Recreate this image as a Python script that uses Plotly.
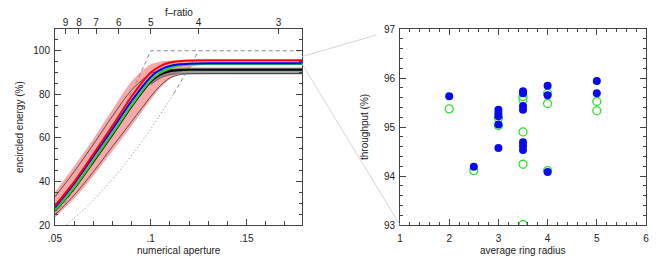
import plotly.graph_objects as go

# ---------------- data: left panel (encircled energy vs numerical aperture) -------------
na = [0.05, 0.06, 0.07, 0.08, 0.09, 0.10, 0.105, 0.11, 0.115, 0.12, 0.13, 0.15, 0.179]
ee_red = [28.8, 39.8, 52.5, 65.5, 79.0, 90.0, 93.0, 94.6, 95.2, 95.5, 95.6, 95.6, 95.6]
ee_blue = [28.1, 39.0, 51.5, 64.0, 77.0, 88.0, 91.3, 93.0, 93.8, 94.1, 94.3, 94.3, 94.3]
ee_green = [26.8, 37.2, 49.5, 62.0, 75.0, 86.5, 90.0, 92.0, 93.2, 93.7, 93.9, 93.9, 93.9]
ee_black = [26.5, 36.8, 49.0, 61.5, 74.5, 85.8, 89.0, 90.6, 91.1, 91.3, 91.3, 91.3, 91.3]
ee_thin_up = [33.0, 44.5, 57.0, 70.0, 82.0, 89.5, 90.9, 91.3, 91.4, 91.4, 91.4, 91.4, 91.4]
ee_thin_lo = [24.6, 33.7, 44.4, 56.0, 67.5, 79.0, 84.0, 87.5, 89.0, 89.4, 89.5, 89.5, 89.5]
ee_band_up = [35.2, 47.0, 59.5, 73.0, 86.0, 93.8, 95.0, 95.4, 95.6, 95.7, 95.8, 95.8, 95.8]
ee_band_lo = [23.5, 32.0, 42.5, 54.0, 65.5, 77.5, 83.0, 87.0, 89.8, 92.3, 94.0, 94.3, 94.3]

na_gray = [0.10, 0.105, 0.11, 0.115, 0.12, 0.13, 0.179]
ee_gray_up = [86.5, 89.6, 91.2, 91.8, 92.0, 92.0, 92.0]
ee_gray_lo = [84.5, 87.5, 89.0, 89.4, 89.5, 89.5, 89.5]

na_dash1 = [0.05, 0.055, 0.06, 0.065, 0.07, 0.075, 0.08, 0.085, 0.09, 0.095, 0.10, 0.179]
ee_dash1 = [25.0, 30.2, 36.0, 42.2, 49.0, 56.2, 64.0, 72.2, 81.0, 90.2, 100.0, 100.0]
na_dot = [0.056, 0.06, 0.065, 0.07, 0.075, 0.08, 0.085, 0.09, 0.095, 0.10, 0.105, 0.112]
ee_dot = [20.1, 23.0, 27.0, 31.4, 36.0, 41.0, 46.2, 51.8, 57.8, 64.0, 70.6, 80.3]
na_dash2 = [0.112, 0.116, 0.12, 0.125]
ee_dash2 = [80.3, 86.1, 92.2, 100.0]

f_ticks = [9, 8, 7, 6, 5, 4, 3]

# ---------------- data: right panel (throughput vs average ring radius) -----------------
blue_r = [2, 2.5, 3, 3, 3, 3, 3, 3.5, 3.5, 3.5, 3.5, 3.5, 3.5, 3.5, 4, 4, 4, 5, 5]
blue_t = [95.63, 94.19, 95.35, 95.28, 95.22, 95.05, 94.57, 95.73, 95.69, 95.43, 95.35,
          94.69, 94.61, 94.53, 95.84, 95.65, 94.08, 95.94, 95.69]
green_r = [2, 2.5, 3, 3, 3.5, 3.5, 3.5, 3.5, 3.5, 4, 4, 4, 5, 5]
green_t = [95.37, 94.11, 95.18, 95.03, 95.62, 95.55, 94.90, 94.24, 93.01, 95.69, 95.48,
           94.11, 95.52, 95.33]

# ---------------- figure ----------------------------------------------------------------
fig = go.Figure()
sp = dict(shape="spline", smoothing=0.8)

fig.add_trace(go.Scatter(x=na, y=ee_band_lo, mode="lines", line=dict(width=0, **sp),
                         hoverinfo="skip", showlegend=False))
fig.add_trace(go.Scatter(x=na, y=ee_band_up, mode="lines", line=dict(width=0, **sp),
                         fill="tonexty", fillcolor="rgba(242,110,110,0.6)",
                         hoverinfo="skip", showlegend=False))
fig.add_trace(go.Scatter(x=na_gray, y=ee_gray_lo, mode="lines",
                         line=dict(width=0.8, color="#555", **sp), showlegend=False))
fig.add_trace(go.Scatter(x=na_gray, y=ee_gray_up, mode="lines",
                         line=dict(width=0.8, color="#555", **sp),
                         fill="tonexty", fillcolor="rgba(120,120,120,0.7)", showlegend=False))
fig.add_trace(go.Scatter(x=na, y=ee_thin_up, mode="lines",
                         line=dict(width=0.8, color="#333", **sp), showlegend=False))
fig.add_trace(go.Scatter(x=na, y=ee_thin_lo, mode="lines",
                         line=dict(width=0.8, color="#333", **sp), showlegend=False))
fig.add_trace(go.Scatter(x=na_dash1, y=ee_dash1, mode="lines",
                         line=dict(width=1, color="#8a8a8a", dash="4px,3px"), showlegend=False))
fig.add_trace(go.Scatter(x=na_dot, y=ee_dot, mode="lines",
                         line=dict(width=1, color="#8a8a8a", dash="1px,2.5px"), showlegend=False))
fig.add_trace(go.Scatter(x=na_dash2, y=ee_dash2, mode="lines",
                         line=dict(width=1, color="#8a8a8a", dash="4px,3px"), showlegend=False))
fig.add_trace(go.Scatter(x=na, y=ee_black, mode="lines",
                         line=dict(width=2, color="#000000", **sp), showlegend=False))
fig.add_trace(go.Scatter(x=na, y=ee_green, mode="lines",
                         line=dict(width=2, color="#22d622", **sp), showlegend=False))
fig.add_trace(go.Scatter(x=na, y=ee_blue, mode="lines",
                         line=dict(width=2, color="#0000ff", **sp), showlegend=False))
fig.add_trace(go.Scatter(x=na, y=ee_red, mode="lines",
                         line=dict(width=2, color="#ff0000", **sp), showlegend=False))

# right panel
fig.add_trace(go.Scatter(x=green_r, y=green_t, mode="markers", xaxis="x3", yaxis="y3",
                         marker=dict(symbol="circle-open", size=8, color="#33dd33",
                                     line=dict(width=1.3, color="#33dd33")),
                         showlegend=False))
fig.add_trace(go.Scatter(x=blue_r, y=blue_t, mode="markers", xaxis="x3", yaxis="y3",
                         marker=dict(symbol="circle", size=8, color="#0a0af0"),
                         showlegend=False))

axc = "#444"
tickfont = dict(family="Liberation Sans, Arial, sans-serif", size=10, color="#222")
common = dict(showgrid=False, zeroline=False, showline=True, linecolor=axc, linewidth=1,
              ticks="inside", tickcolor=axc, tickfont=tickfont, automargin=False)

L = 0.418
R0 = 0.5838

fig.update_layout(
    width=656, height=263,
    margin=dict(l=47, r=18, t=21, b=46),
    paper_bgcolor="white", plot_bgcolor="white",
    font=tickfont,
    xaxis=dict(domain=[0, L], range=[0.05, 0.179], mirror=True,
               tickvals=[0.05, 0.10, 0.15], ticktext=[".05", ".1", ".15"], ticklabelstandoff=4,
               ticklen=6, minor=dict(dtick=0.01, tick0=0.05, ticklen=4, tickcolor=axc, ticks="inside"),
               **common),
    yaxis=dict(domain=[0, 1], range=[20, 110], mirror="ticks",
               tickvals=[20, 40, 60, 80, 100], ticklen=6, ticklabelstandoff=2,
               minor=dict(dtick=5, tick0=20, ticklen=3, tickcolor=axc, ticks="inside"),
               **common),
    xaxis2=dict(overlaying="x", side="top", range=[0.05, 0.179], anchor="y",
                tickvals=[1 / (2 * f) for f in f_ticks], ticktext=[str(f) for f in f_ticks],
                showgrid=False, zeroline=False, showline=False, ticks="inside",
                tickcolor=axc, ticklen=5, tickfont=tickfont, automargin=False),
    xaxis3=dict(domain=[R0, 1], range=[1, 6], anchor="y3", mirror="ticks", dtick=1,
                ticklen=6, ticklabelstandoff=4,
                minor=dict(dtick=0.2, ticklen=3, tickcolor=axc, ticks="inside"),
                **common),
    yaxis3=dict(domain=[0, 1], range=[93, 97], anchor="x3", mirror="ticks", dtick=1,
                ticklen=6, ticklabelstandoff=2,
                minor=dict(dtick=0.2, ticklen=3, tickcolor=axc, ticks="inside"),
                **common),
)

# dummy trace to activate xaxis2
fig.add_trace(go.Scatter(x=[0.1], y=[None], xaxis="x2", yaxis="y", showlegend=False,
                         hoverinfo="skip"))

tf = dict(family="Liberation Sans, Arial, sans-serif", size=10, color="#222")
ann = dict(showarrow=False, font=tf, xanchor="center", yanchor="middle")
fig.add_annotation(text="f\u2013ratio", xref="x domain", yref="paper", x=0.5, y=1.083, **ann)
fig.add_annotation(text="numerical aperture", xref="x domain", yref="paper", x=0.5, y=-0.128, **ann)
fig.add_annotation(text="encircled energy (%)", xref="paper", yref="paper", x=-0.061, y=0.5,
                   textangle=-90, **ann)
fig.add_annotation(text="throughput (%)", xref="paper", yref="paper", x=0.5228, y=0.5,
                   textangle=-90, **ann)
fig.add_annotation(text="average ring radius", xref="x3 domain", yref="paper", x=0.5, y=-0.128, **ann)

# zoom connector lines
fig.add_shape(type="line", xref="paper", yref="paper", x0=0.4174, y0=0.8587, x1=0.5443, y1=0.9694,
              line=dict(color="#cccccc", width=0.8))
fig.add_shape(type="line", xref="paper", yref="paper", x0=0.4174, y0=0.8250, x1=0.5838, y1=0.0,
              line=dict(color="#cccccc", width=0.8))

fig.write_html("out.html")
